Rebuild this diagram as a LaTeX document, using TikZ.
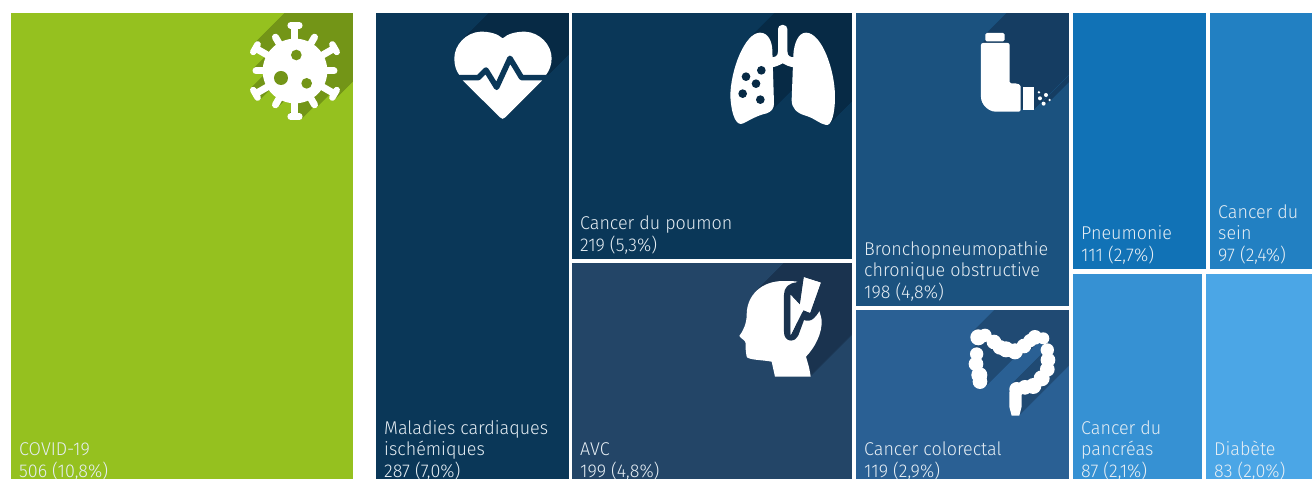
\documentclass[tikz,border=0pt]{standalone}
\usepackage{fontspec}
\setmainfont{Fira Sans Light}[FakeStretch=0.97]
\definecolor{cvA}{HTML}{95C11F}\definecolor{cvS}{HTML}{739517}
\definecolor{mcA}{HTML}{0A3758}\definecolor{mcS}{HTML}{072A45}
\definecolor{avA}{HTML}{234567}\definecolor{avS}{HTML}{1A334F}
\definecolor{brA}{HTML}{1B527F}\definecolor{brS}{HTML}{153D62}
\definecolor{coA}{HTML}{2A6094}\definecolor{coS}{HTML}{204A73}
\definecolor{pnA}{HTML}{1172B6}\definecolor{seA}{HTML}{2280C2}
\definecolor{paA}{HTML}{3691D3}\definecolor{diA}{HTML}{4BA6E6}
\definecolor{txt}{HTML}{E6EEF4}
\newcommand{\shVirus}{\begin{scope}[shift={(230,0)},scale=0.3333]
 \fill (195,213) circle[radius=97];
 \foreach \a in {0,60,120,180,240,300}{\begin{scope}[rotate around={\a:(195,213)}]
   \draw[line width=7pt,line cap=round] (195,213) -- (312,213);\end{scope}}
 \foreach \a in {30,90,150,210,270,330}{\begin{scope}[rotate around={\a:(195,213)}]
   \draw[line width=7pt] (195,213) -- (330,213);
   \draw[line width=6.5pt,line cap=round] (332,200) -- (332,226);\end{scope}}
\end{scope}}
\newcommand{\shHeart}{\begin{scope}[shift={(230,0)},scale=0.3333]
 \fill (818,115) .. controls (835,100) and (860,95) .. (885,95) .. controls (930,97) and (965,135) .. (965,175) .. controls (965,195) and (958,212) .. (948,225) -- (935,243) -- (826,352) .. controls (820,358) and (816,358) .. (810,352) -- (700,243) -- (688,225) .. controls (678,212) and (673,195) .. (673,175) .. controls (673,135) and (708,97) .. (752,95) .. controls (777,95) and (802,100) .. (818,115) -- cycle;
\end{scope}}
\newcommand{\shLungs}{\begin{scope}[shift={(700,0)},scale=0.3333]
 \fill (180,98) .. controls (205,98) and (216,125) .. (217,150) -- (222,310) .. controls (222,325) and (215,335) .. (200,340) .. controls (170,347) and (150,360) .. (130,370) .. controls (110,380) and (95,350) .. (91,290) .. controls (91,210) and (135,98) .. (180,98) -- cycle;
 \fill (318,98) .. controls (295,98) and (282,130) .. (280,165) -- (275,300) .. controls (275,325) and (290,340) .. (320,348) .. controls (345,356) and (360,372) .. (378,375) .. controls (395,378) and (405,340) .. (405,290) .. controls (405,210) and (365,98) .. (318,98) -- cycle;
 \fill[rounded corners=4pt] (234,172) -- (234,75) -- (262,75) -- (262,172) -- cycle;
 \fill (215,172) .. controls (225,172) and (234,168) .. (234,155) -- (262,155) .. controls (262,168) and (272,172) .. (282,172) -- (282,202) .. controls (268,200) and (258,196) .. (248,190) .. controls (238,196) and (228,200) .. (215,202) -- cycle;
\end{scope}}
\newcommand{\shInhaler}{\begin{scope}[shift={(700,0)},scale=0.3333]
 \fill[rounded corners=1.5pt] (856,99) rectangle (914,124);
 \fill[rounded corners=2pt] (843,285) -- (843,129) -- (929,129) -- (929,240) .. controls (929,247) and (934,250) .. (940,250) .. controls (955,250) and (962,255) .. (962,265) -- (962,335) -- (893,335) .. controls (865,335) and (843,313) .. (843,285) -- cycle;
 \fill (968,261) rectangle (1002,330);
 \fill (1017,277) circle[radius=4];
 \fill (1038,285) circle[radius=6];
 \fill (1020,295) circle[radius=6];
 \fill (1049,300) circle[radius=4];
 \fill (1031,311) circle[radius=6];
\end{scope}}
\newcommand{\shHead}{\begin{scope}[shift={(700,260)},scale=0.3333]
 \fill (292,65) .. controls (280,63) and (265,63) .. (250,63) .. controls (185,63) and (140,105) .. (140,165) .. controls (140,190) and (130,212) .. (118,228) .. controls (125,238) and (136,240) .. (137,250) .. controls (136,265) and (138,280) .. (140,290) .. controls (143,300) and (190,300) .. (215,305) -- (225,350) -- (332,350) .. controls (328,320) and (322,305) .. (318,290) .. controls (345,262) and (367,220) .. (365,180) .. controls (362,165) and (358,150) .. (352,140) -- (325,178) -- (308,165) -- (285,225) -- (262,240) -- (258,100) -- (265,85) -- cycle;
 \fill (312,52) -- (362,68) -- (330,158) -- (310,150) -- (272,225) -- (272,105) -- (300,135) -- cycle;
\end{scope}}
\newcommand{\shColon}{\begin{scope}[shift={(700,260)},scale=0.3333]
 \fill (835,232) circle[radius=24];\fill (855,226) circle[radius=20];\fill (882,246) circle[radius=22];
 \fill (900,262) circle[radius=22];\fill (918,268) circle[radius=24];\fill (945,274) circle[radius=24];
 \fill (972,258) circle[radius=22];\fill (990,242) circle[radius=20];\fill (1005,232) circle[radius=22];\fill (1030,235) circle[radius=18];
 \fill (830,282) circle[radius=20];\fill (828,312) circle[radius=22];\fill (838,345) circle[radius=24];\fill (840,365) circle[radius=22];
 \fill (1042,270) circle[radius=20];\fill (1044,300) circle[radius=22];\fill (1042,328) circle[radius=22];
 \fill (1025,355) circle[radius=24];\fill (1000,378) circle[radius=24];\fill (975,382) circle[radius=22];\fill (950,388) circle[radius=22];
 \fill (928,395) -- (965,395) -- (965,440) -- (958,467) -- (935,467) -- (928,440) -- cycle;
\end{scope}}
\newcommand{\longshadow}[4]{\begin{scope}\clip #1;
 \begin{scope}[color=#2]\foreach \k in {1,...,#4}{\begin{scope}[shift={(\k,-\k)}]#3\end{scope}}\end{scope}
 \end{scope}}
\tikzset{celltxt/.style={anchor=base west,align=left,inner sep=0pt,text=txt,font=\fontsize{18.5}{21.2}\selectfont},
 icon/.style={color=white}}
\begin{document}
\begin{tikzpicture}[x=1pt,y=-1pt]
\useasboundingbox (0,0) rectangle (1312,479);
\fill[white] (0,0) rectangle (1312,479);
% cells
\fill[cvA] (11,12) rectangle (353,479);
\fill[mcA] (376,12) rectangle (569,479);
\fill[mcA] (572,12) rectangle (852,259);
\fill[avA] (572,263) rectangle (852,479);
\fill[brA] (856,12) rectangle (1069,306);
\fill[coA] (856,310) rectangle (1069,479);
\fill[pnA] (1073,12) rectangle (1206,269);
\fill[seA] (1210,12) rectangle (1312,269);
\fill[paA] (1073,274) rectangle (1202,479);
\fill[diA] (1206,274) rectangle (1312,479);
% long shadows
\longshadow{(11,12) rectangle (353,479)}{cvS}{\shVirus}{90}
\longshadow{(376,12) rectangle (569,479)}{mcS}{\shHeart}{80}
\longshadow{(572,12) rectangle (852,259)}{mcS}{\shLungs}{90}
\longshadow{(572,263) rectangle (852,479)}{avS}{\shHead}{80}
\longshadow{(856,12) rectangle (1069,306)}{brS}{\shInhaler}{70}
\longshadow{(856,310) rectangle (1069,479)}{coS}{\shColon}{70}
% white gaps restored over the shadow clip edges
\fill[white] (0,0) rectangle (1312,12.5);
\fill[white] (353,0) rectangle (376,479);
\fill[white] (569,0) rectangle (572,479);
\fill[white] (852,0) rectangle (856,479);
\fill[white] (1069,0) rectangle (1073,479);
\fill[white] (572,259) rectangle (852,263);
\fill[white] (856,306) rectangle (1069,310);
% icons
\begin{scope}[icon]\shVirus\end{scope}
\begin{scope}[shift={(230,0)},scale=0.3333]
 \fill[cvS] (199,165) circle[radius=16] (153,234) circle[radius=21] (230,250) circle[radius=16];
\end{scope}
\begin{scope}[icon]\shHeart\end{scope}
\begin{scope}[shift={(230,0)},scale=0.3333]
 \draw[mcA,line width=5.5pt,line join=round] (680,233) -- (745,233) -- (768,210) -- (800,262) -- (840,175) -- (875,233) -- (960,233);
\end{scope}
\begin{scope}[icon]\shLungs\end{scope}
\begin{scope}[shift={(700,0)},scale=0.3333]
 \fill[mcS] (138,230) circle[radius=13] (184,211) circle[radius=13] (168,251) circle[radius=13] (128,281) circle[radius=13] (181,299) circle[radius=13];
\end{scope}
\begin{scope}[icon]\shInhaler\end{scope}
\begin{scope}[icon]\shHead\end{scope}
\begin{scope}[shift={(700,260)},scale=0.3333]
 \draw[avS,line width=6pt,line join=round] (292,76) .. controls (270,78) and (261,88) .. (261,105) -- (261,215) .. controls (261,238) and (280,238) .. (287,222) -- (308,165) .. controls (320,180) and (335,180) .. (358,135);
 \fill[white] (312,52) -- (362,68) -- (330,158) -- (310,150) -- (272,225) -- (272,105) -- (300,135) -- cycle;
\end{scope}
\begin{scope}[icon]\shColon\end{scope}
% labels (anchor: baseline of the last line)
\node[celltxt] (covid) at (19,477) {COVID-19\\506 (10,8\%)};
\node[celltxt] (mal) at (384,477) {Maladies cardiaques\\ischémiques\\287 (7,0\%)};
\node[celltxt] (poumon) at (580,251) {Cancer du poumon\\219 (5,3\%)};
\node[celltxt] (avc) at (580,477) {AVC\\199 (4,8\%)};
\node[celltxt] (bpco) at (864,298) {Bronchopneumopathie\\chronique obstructive\\198 (4,8\%)};
\node[celltxt] (colo) at (864,477) {Cancer colorectal\\119 (2,9\%)};
\node[celltxt] (pneu) at (1081,261) {Pneumonie\\111 (2,7\%)};
\node[celltxt] (sein) at (1218,261) {Cancer du\\sein\\97 (2,4\%)};
\node[celltxt] (panc) at (1081,477) {Cancer du\\pancréas\\87 (2,1\%)};
\node[celltxt] (diab) at (1214,477) {Diabète\\83 (2,0\%)};
\end{tikzpicture}
\end{document}
